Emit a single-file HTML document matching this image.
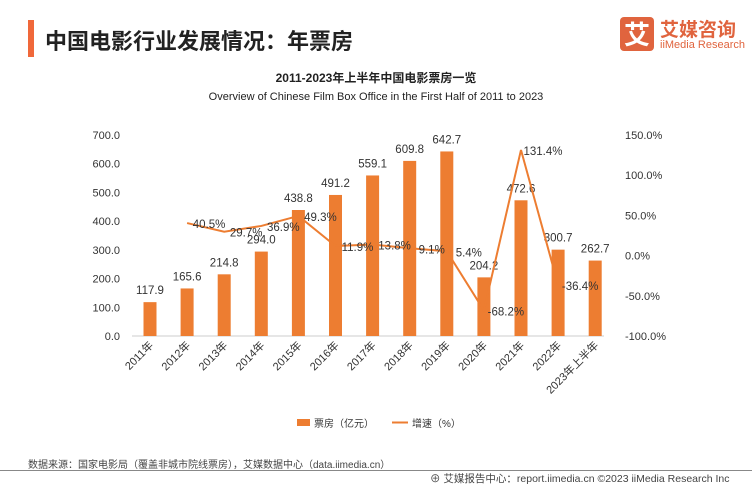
<!DOCTYPE html>
<html><head><meta charset="utf-8"><style>
body{margin:0;width:752px;height:485px;background:#fff;font-family:"Liberation Sans","Noto Sans CJK SC",sans-serif;overflow:hidden;position:relative}
.t{position:absolute;white-space:nowrap}
</style></head><body>
<div style="position:absolute;left:28px;top:20px;width:6px;height:37px;background:#f0683a"></div>
<div class="t" style="left:45px;top:24px;font-size:22px;font-weight:bold;color:#222;font-family:'Noto Sans CJK SC',sans-serif">中国电影行业发展情况：年票房</div>
<div style="position:absolute;left:620px;top:17px;width:34px;height:34px;background:#e0643e;border-radius:4px;color:#fff;font-size:26px;font-weight:bold;text-align:center;line-height:34px;font-family:'Noto Sans CJK SC',sans-serif">艾</div>
<div class="t" style="left:660px;top:15px;font-size:19px;font-weight:bold;color:#e0643e;font-family:'Noto Sans CJK SC',sans-serif">艾媒咨询</div>
<div class="t" style="left:660px;top:39px;font-size:11px;color:#e0643e">iiMedia Research</div>
<div class="t" style="left:0;width:752px;text-align:center;top:69px;font-size:12px;font-weight:bold;color:#222">2011-2023年上半年中国电影票房一览</div>
<div class="t" style="left:0;width:752px;text-align:center;top:91px;font-size:11px;color:#222">Overview of Chinese Film Box Office in the First Half of 2011 to 2023</div>
<svg id="c" width="752" height="485" style="position:absolute;left:0;top:0"></svg>
<div class="t" style="left:28px;top:456px;font-size:10px;color:#444">数据来源：国家电影局（覆盖非城市院线票房），艾媒数据中心（data.iimedia.cn）</div>
<div style="position:absolute;left:0;top:470px;width:752px;height:1px;background:#888"></div>
<div class="t" style="left:430px;top:471px;font-size:10.5px;color:#444">⊕ 艾媒报告中心：report.iimedia.cn  ©2023 iiMedia Research Inc</div>
<script>
const cats=["2011年","2012年","2013年","2014年","2015年","2016年","2017年","2018年","2019年","2020年","2021年","2022年","2023年上半年"];
const boxOffice=[117.9,165.6,214.8,294.0,438.8,491.2,559.1,609.8,642.7,204.2,472.6,300.7,262.7];
const growth=[null,40.5,29.7,36.9,49.3,11.9,13.8,9.1,5.4,-68.2,131.4,-36.4,null];
const leftTicks=[0,100,200,300,400,500,600,700];
const rightTicks=[-100,-50,0,50,100,150];
const svg=document.getElementById('c');const NS='http://www.w3.org/2000/svg';
const x0=150,step=37.1,yB=336,yT=135;
const xs=i=>x0+i*step;
const yL=v=>yB-(v/700)*(yB-yT);
const yR=v=>yB-((v+100)/250)*(yB-yT);
function mk(t,a){const e=document.createElementNS(NS,t);for(const k in a)e.setAttribute(k,a[k]);svg.appendChild(e);return e;}
function tx(x,y,s,anchor,size,name){const e=mk('text',{x:x,y:y,'text-anchor':anchor,'font-size':size,fill:'#333','font-family':'Liberation Sans,Noto Sans CJK SC,sans-serif'});e.textContent=s;return e;}
leftTicks.forEach(v=>{tx(120,yL(v)+4,v.toFixed(1),'end',11,'y-left-tick');});
rightTicks.forEach(v=>{tx(625,yR(v)+4,v.toFixed(1)+'%','start',11,'y-right-tick');});
const ax=mk('line',{x1:132,x2:604,y1:yB,y2:yB,stroke:'#ccc'});


boxOffice.forEach((v,i)=>{
 const r=mk('rect',{x:xs(i)-6.5,y:yL(v),width:13,height:yB-yL(v),fill:'#ed7d31'});
 
 
 tx(xs(i),yL(v)-8,v.toFixed(1),'middle',11.5,'bar-label');
 const l=tx(0,0,cats[i],'end',11,'x-tick');
 l.setAttribute('transform','translate('+(xs(i)+4)+','+(yB+10)+') rotate(-45)');
});
let d='';growth.forEach((v,i)=>{if(v===null)return;d+=(d?'L':'M')+xs(i)+','+yR(v);});
const p=mk('path',{d:d,fill:'none',stroke:'#ed7d31','stroke-width':2});


growth.forEach((v,i)=>{if(v===null)return;tx(xs(i)+22,yR(v)+5,v.toFixed(1)+'%','middle',11.5,'growth-label');});
const lg=mk('rect',{x:297,y:419,width:13,height:7,fill:'#ed7d31'});


tx(314,427,'票房（亿元）','start',10,'legend-bar');
const ll=mk('line',{x1:392,x2:408,y1:422.5,y2:422.5,stroke:'#ed7d31','stroke-width':2});


tx(412,427,'增速（%）','start',10,'legend-line');
</script>
</body></html>
